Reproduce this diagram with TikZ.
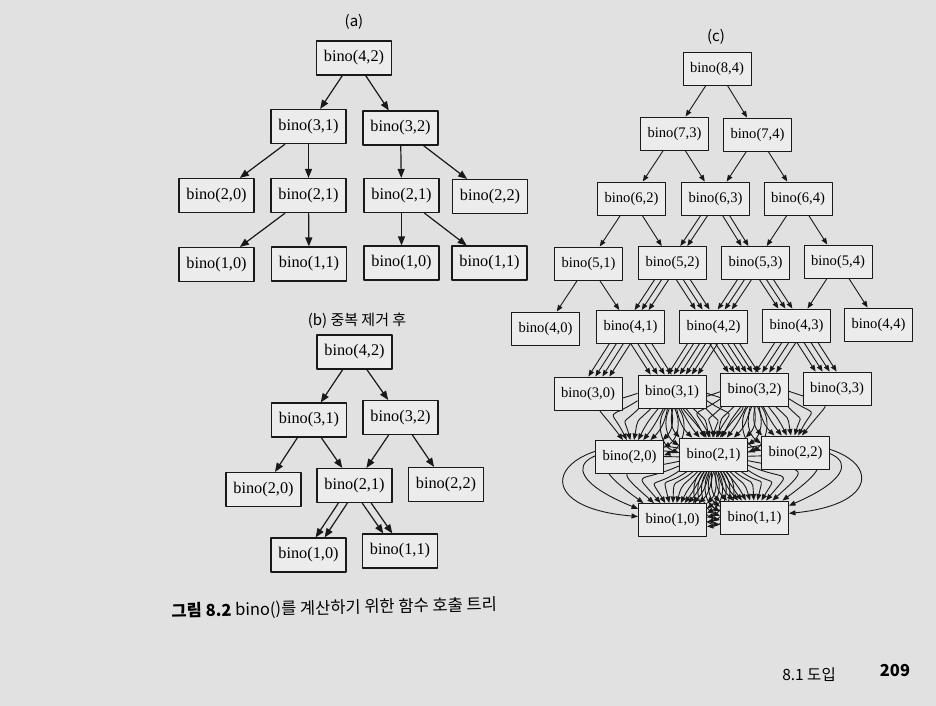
\documentclass[tikz,border=0pt]{standalone}
\usepackage{fontspec}
\setmainfont{Liberation Serif}
\newfontfamily\kr{Noto Sans CJK KR}
\usetikzlibrary{arrows.meta}
\definecolor{pagegray}{RGB}{225,225,225}
\definecolor{boxfill}{RGB}{236,236,236}
\definecolor{ink}{RGB}{25,25,25}
\pgfdeclarelayer{paper}
\pgfdeclarelayer{edges}
\pgfsetlayers{paper,edges,main}

% #4 parallel calls from #2 to #3, #5 pt apart
\newcommand{\calledge}[5][ccall]{%
  \foreach \i in {1,...,#4}{%
    \pgfmathsetmacro\sh{(\i-(#4+1)/2)*#5}%
    \draw[#1, transform canvas={xshift=\sh pt}] (#2) -- (#3);
  }}
% #3 bent calls: step #4 deg, outer side #5, in factor #6, looseness scale #7
\newcommand{\callfan}[7]{%
  \foreach \i in {1,...,#3}{%
    \pgfmathsetmacro\bendang{(\i-(#3+1)/2)*#4}%
    \pgfmathsetmacro\side{\bendang*#5}%
    \pgfmathsetmacro\inang{\side>0 ? 180-#6*\bendang : 180-\bendang}%
    \pgfmathsetmacro\loosen{\side>0 ? 1+\side/#7 : 1}%
    \draw[ccall] (#1) to[out=\bendang, in=\inang, relative, looseness=\loosen] (#2);
  }}

\begin{document}
\begin{tikzpicture}[x=1pt, y=1pt, line join=round,
    box/.style={draw=ink, line width=1.1pt, fill=boxfill, inner sep=0pt,
      minimum width=75pt, minimum height=34pt, font=\fontsize{16.3}{17}\selectfont},
    cbox/.style={box, line width=0.9pt, minimum width=68pt, minimum height=33pt,
      font=\fontsize{14.6}{15}\selectfont},
    title/.style={font=\kr\fontsize{15}{16}\selectfont},
    call/.style={draw=ink, line width=1.2pt, -{Triangle[length=9pt, width=7pt]}},
    ccall/.style={draw=ink, line width=0.9pt, -{Triangle[length=6.5pt, width=5pt]}}]
  \useasboundingbox (0,0) rectangle (936,-706);
  \begin{pgfonlayer}{paper}
    \fill[pagegray] (0,0) rectangle (936,-706);
  \end{pgfonlayer}

  % (a) full call tree
  \node[title] (ta) at (354,-22) {(a)};
  \node[box] (a42) at (354,-58) {bino(4,2)};
  \node[box] (a31) at (308.5,-126.5) {bino(3,1)};
  \node[box] (a32) at (400.5,-128) {bino(3,2)};
  \node[box] (a20) at (216.5,-195.5) {bino(2,0)};
  \node[box] (a21a) at (308.5,-195.5) {bino(2,1)};
  \node[box] (a21b) at (401.5,-195.5) {bino(2,1)};
  \node[box] (a22) at (490,-196.5) {bino(2,2)};
  \node[box] (a10a) at (216.5,-264.5) {bino(1,0)};
  \node[box] (a11a) at (309,-264) {bino(1,1)};
  \node[box] (a10b) at (401.5,-263) {bino(1,0)};
  \node[box] (a11b) at (489.5,-263) {bino(1,1)};
  \foreach \p/\c in {a42/a31, a42/a32, a31/a20, a31/a21a, a32/a21b, a32/a22,
      a21a/a10a, a21a/a11a, a21b/a10b, a21b/a11b}
    \draw[call] (\p) -- (\c);

  % (b) after removing duplicates
  \node[title] (tb) at (357,-321) {(b) 중복 제거 후};
  \node[box] (b42) at (354.5,-352) {bino(4,2)};
  \node[box] (b31) at (309,-420) {bino(3,1)};
  \node[box] (b32) at (400.5,-417.5) {bino(3,2)};
  \node[box] (b20) at (263.5,-489.5) {bino(2,0)};
  \node[box] (b21) at (354.5,-485.5) {bino(2,1)};
  \node[box] (b22) at (446,-484.5) {bino(2,2)};
  \node[box] (b10) at (308.5,-555) {bino(1,0)};
  \node[box] (b11) at (400,-551) {bino(1,1)};
  \foreach \p/\c in {b42/b31, b42/b32, b31/b20, b31/b21, b32/b21, b32/b22}
    \draw[call] (\p) -- (\c);
  \calledge[call]{b21}{b10}{2}{9}
  \calledge[call]{b21}{b11}{2}{9}

  % (c) bino(8,4)
  \node[title] (tc) at (716,-37) {(c)};
  \foreach \n/\k/\x/\y in {8/4/717/68.5,
      7/3/674.5/133.5, 7/4/757.5/134.5,
      6/2/631.5/198.5, 6/3/715.5/198.5, 6/4/798/198.5,
      5/1/588.5/263.5, 5/2/672.5/263, 5/3/755.5/263, 5/4/838/261.5,
      4/0/545.5/328.5, 4/1/630.5/327, 4/2/713.5/326.5, 4/3/796.5/325.5, 4/4/878.5/324.5,
      3/0/588/393.5, 3/1/672/391.5, 3/2/754.5/389.5, 3/3/837/388.5,
      2/0/629.5/457, 2/1/713.5/454.5, 2/2/795.5/452.5,
      1/0/672.5/520, 1/1/754.5/517.5}
    \node[cbox] (c\n\k) at (\x,-\y) {bino(\n,\k)};
  \begin{pgfonlayer}{edges}
    \foreach \p/\c in {c84/c73, c84/c74, c73/c62, c73/c63, c74/c63, c74/c64,
        c62/c51, c62/c52, c64/c53, c64/c54, c51/c40, c51/c41, c54/c43, c54/c44}
      \draw[ccall] (\p) -- (\c);
    \calledge{c63}{c52}{2}{7}
    \calledge{c63}{c53}{2}{7}
    \calledge{c52}{c41}{3}{7}
    \calledge{c52}{c42}{3}{7}
    \calledge{c53}{c42}{3}{7}
    \calledge{c53}{c43}{3}{7}
    \calledge{c41}{c30}{4}{7}
    \calledge{c41}{c31}{4}{7}
    \calledge{c42}{c31}{6}{6}
    \calledge{c42}{c32}{6}{6}
    \calledge{c43}{c32}{4}{7}
    \calledge{c43}{c33}{4}{7}
    \callfan{c31}{c20}{10}{12}{-1}{1}{30}
    \callfan{c31}{c21}{10}{12}{1}{1}{30}
    \callfan{c32}{c21}{10}{12}{-1}{1}{30}
    \callfan{c32}{c22}{10}{12}{1}{1}{30}
    \callfan{c21}{c10}{20}{7.2}{-1}{1.7}{23}
    \callfan{c21}{c11}{20}{7.2}{1}{1.7}{23}
  \end{pgfonlayer}

  % caption and page footer
  \node[anchor=west, rotate=1.3, font=\kr\fontsize{16.5}{18}\selectfont] (cap) at (168,-612)
    {\textbf{그림 8.2} bino()를 계산하기 위한 함수 호출 트리};
  \node[font=\kr\fontsize{15.5}{17}\selectfont] (sec) at (809,-675) {8.1 도입};
  \node[font=\kr\bfseries\fontsize{16.5}{18}\selectfont] (pg) at (895,-671) {209};
\end{tikzpicture}
\end{document}
